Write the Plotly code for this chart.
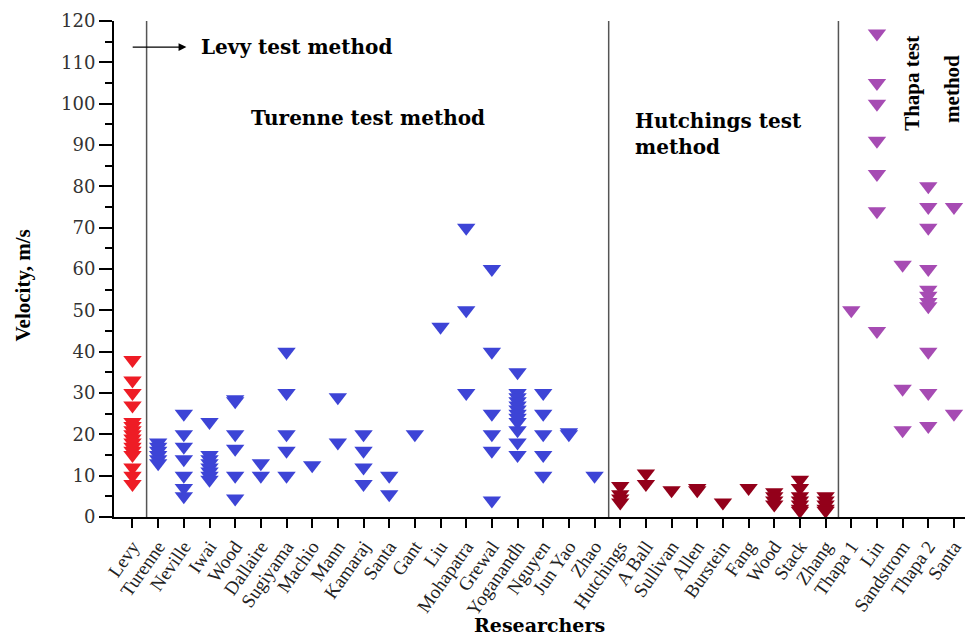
import plotly.graph_objects as go

# ---------------- data ----------------
levy_names = ["Levy"]
levy_values = [[38, 33, 30, 27, 23, 22, 21, 20, 19, 18, 17, 16, 15, 12, 10, 8]]

turenne_names = ["Turenne", "Neville", "Iwai", "Wood", "Dallaire", "Sugiyama", "Machio",
                 "Mann", "Kamaraj", "Santa", "Gant", "Liu", "Mohapatra", "Grewal",
                 "Yoganandh", "Nguyen", "Jun Yao", "Zhao"]
turenne_values = [
    [18, 17, 16, 15, 14, 13],
    [25, 20, 17, 14, 10, 7, 5],
    [23, 15, 14, 13, 12, 11, 10, 9],
    [28.5, 28, 20, 16.5, 10, 4.5],
    [13, 10],
    [40, 30, 20, 16, 10],
    [12.5],
    [29, 18],
    [20, 16, 12, 8],
    [10, 5.5],
    [20],
    [46],
    [70, 50, 30],
    [60, 40, 25, 20, 16, 4],
    [35, 30, 29, 28, 27, 26, 25, 24, 23, 21, 18, 15],
    [30, 25, 20, 15, 10],
    [20.5, 20],
    [10],
]

hutchings_names = ["Hutchings", "A Ball", "Sullivan", "Allen", "Burstein", "Fang",
                   "Wood", "Stack", "Zhang"]
hutchings_values = [
    [7.5, 5.5, 4.5, 3.5],
    [10.5, 8],
    [6.5],
    [7, 6.5],
    [3.5],
    [7],
    [6, 5, 4, 3],
    [9, 7, 5, 4, 3, 2, 1.5],
    [5, 4, 3, 2, 1.5],
]

thapa_names = ["Thapa 1", "Lin", "Sandstrom", "Thapa 2", "Santa"]
thapa_values = [
    [50],
    [117, 105, 100, 91, 83, 74, 45],
    [61, 31, 21],
    [80, 75, 70, 60, 55, 53.5, 52, 51, 40, 30, 22],
    [75, 25],
]

y_ticks = [0, 10, 20, 30, 40, 50, 60, 70, 80, 90, 100, 110, 120]

groups = [
    (levy_names, levy_values, "#EE1C25"),
    (turenne_names, turenne_values, "#3D44D6"),
    (hutchings_names, hutchings_values, "#93001A"),
    (thapa_names, thapa_values, "#A64BB3"),
]

# ---------------- figure ----------------
fig = go.Figure()
all_names = []
idx = 0
for names, values, color in groups:
    xs, ys = [], []
    for name, vals in zip(names, values):
        for v in vals:
            xs.append(idx)
            ys.append(v)
        all_names.append(name)
        idx += 1
    fig.add_trace(go.Scatter(
        x=xs, y=ys, mode="markers", cliponaxis=False,
        marker=dict(symbol="triangle-down", size=16, color=color, line=dict(width=0)),
        showlegend=False, hoverinfo="x+y",
    ))

n = len(all_names)

serif = "Liberation Serif"
wide_serif = "DejaVu Serif"

fig.update_layout(
    width=970, height=636,
    margin=dict(l=114, r=5, t=21, b=119),
    paper_bgcolor="white", plot_bgcolor="white",
    xaxis=dict(
        range=[-0.72, n - 1 + 0.43],
        tickmode="array", tickvals=list(range(n)), ticktext=all_names,
        tickangle=-55,
        tickfont=dict(family=serif, size=19, color="#222"),
        showline=True, linecolor="black", linewidth=2,
        ticks="outside", ticklen=9, tickwidth=2, tickcolor="black",
        showgrid=False, zeroline=False,
    ),
    yaxis=dict(
        range=[0, 120],
        tickmode="array", tickvals=y_ticks,
        tickfont=dict(family=wide_serif, size=18, color="#333"),
        ticksuffix="\u2002",
        showline=True, linecolor="black", linewidth=2,
        ticks="outside", ticklen=13, tickwidth=2, tickcolor="black",
        minor=dict(dtick=5, ticks="outside", ticklen=7, tickwidth=2, tickcolor="black"),
        showgrid=False, zeroline=False,
    ),
)

# separator lines
for xv in [0.55, 18.55, 27.5]:
    fig.add_shape(type="line", xref="x", yref="y", x0=xv, x1=xv, y0=0, y1=120,
                  line=dict(color="#555", width=1.5))

title_font = dict(family=wide_serif, size=20, color="black")

# arrow
fig.add_annotation(x=2.1, y=113.7, ax=-0.05, ay=113.7, xref="x", yref="y",
                   axref="x", ayref="y", text="", showarrow=True,
                   arrowhead=2, arrowsize=1.3, arrowwidth=1.2, arrowcolor="black")
fig.add_annotation(x=2.6, y=113.7, xref="x", yref="y", text="<b>Levy test method</b>",
                   showarrow=False, xanchor="left", yanchor="middle", font=title_font)
fig.add_annotation(x=4.55, y=96.5, xref="x", yref="y", text="<b>Turenne test method</b>",
                   showarrow=False, xanchor="left", yanchor="middle", font=title_font)
fig.add_annotation(x=19.5, y=92.7, xref="x", yref="y",
                   text="<b>Hutchings test</b><br><b>method</b>", align="left",
                   showarrow=False, xanchor="left", yanchor="middle", font=title_font)
fig.add_annotation(x=30.36, y=105, xref="x", yref="y", text="<b>Thapa test</b>",
                   textangle=-90, showarrow=False, xanchor="center", yanchor="middle",
                   font=dict(family=serif, size=21, color="black"))
fig.add_annotation(x=31.95, y=103.5, xref="x", yref="y", text="<b>method</b>",
                   textangle=-90, showarrow=False, xanchor="center", yanchor="middle",
                   font=dict(family=serif, size=21, color="black"))

# axis titles
fig.add_annotation(x=-0.108, y=56, xref="paper", yref="y", text="<b>Velocity, m/s</b>",
                   textangle=-90, showarrow=False, xanchor="center", yanchor="middle",
                   font=dict(family=serif, size=21, color="black"))
fig.add_annotation(x=0.5, y=-0.218, xref="paper", yref="paper", text="<b>Researchers</b>",
                   showarrow=False, xanchor="center", yanchor="middle",
                   font=dict(family=wide_serif, size=19, color="black"))

fig.write_html("out.html")
